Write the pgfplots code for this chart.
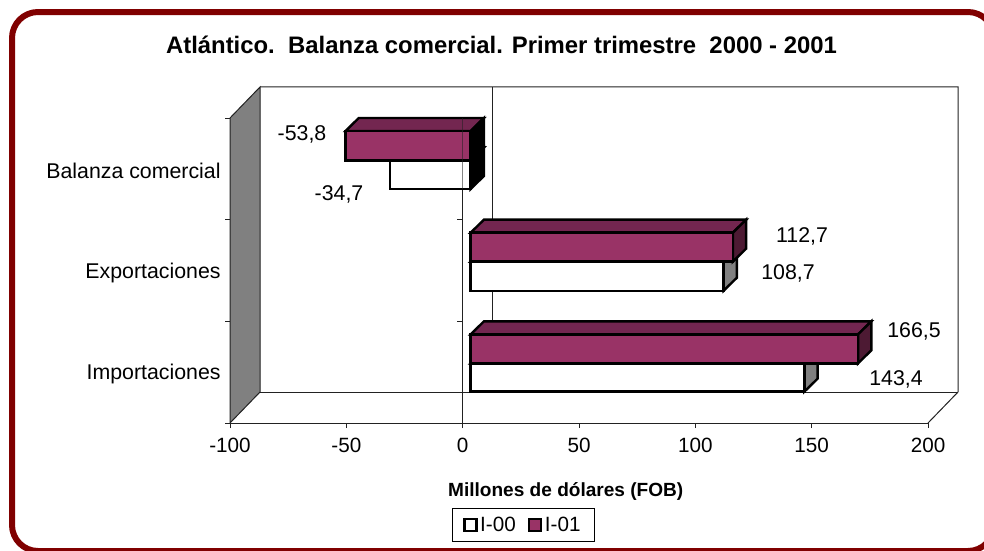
\documentclass[border=0pt]{standalone}
\usepackage{pgfplots}
\pgfplotsset{compat=1.18}
\usepackage{fontspec}
\setmainfont{Liberation Sans}
\definecolor{bfront}{HTML}{993366}
\definecolor{btop}{HTML}{732650}
\definecolor{bside}{HTML}{4D1A33}
\definecolor{wallg}{HTML}{808080}
\definecolor{framec}{HTML}{800000}
\definecolor{axisc}{HTML}{222222}
\newcommand{\lblfont}{\fontsize{15.5}{18}\selectfont}
\newcommand{\catfont}{\fontsize{16}{18}\selectfont}
% value, y bottom, y top, front colour, top colour, side colour
\newcommand{\threedbar}[6]{%
  \pgfmathsetmacro\xv{#1+3.44}%
  \pgfmathsetmacro\xz{3.44}%
  \pgfmathsetmacro\xvd{#1+3.44+5.7}%
  \pgfmathsetmacro\xzd{3.44+5.7}%
  \pgfmathsetmacro\xs{max(#1,0)+3.44}%
  \pgfmathsetmacro\xsd{max(#1,0)+3.44+5.7}%
  \pgfmathsetmacro\ya{#3+0.128}%
  \pgfmathsetmacro\yb{#2+0.128}%
  \addplot[forget plot,draw=black,line width=1.8pt,fill=#5] coordinates {(\xv,#3)(\xz,#3)(\xzd,\ya)(\xvd,\ya)} -- cycle;
  \addplot[forget plot,draw=black,line width=1.8pt,fill=#6] coordinates {(\xs,#2)(\xs,#3)(\xsd,\ya)(\xsd,\yb)} -- cycle;
  \addplot[forget plot,draw=black,line width=1.8pt,fill=#4] coordinates {(\xz,#2)(\xv,#2)(\xv,#3)(\xz,#3)} -- cycle;
}
\begin{document}
\begin{tikzpicture}
\path[use as bounding box] (0,0) rectangle (738pt,-412.5pt);
\draw[framec,line width=4.5pt,rounded corners=19.5pt] (9pt,-9pt) rectangle (745.5pt,-413.25pt);
\begin{axis}[
  at={(172.5pt,-317.25pt)},anchor=south west,
  scale only axis,width=523.5pt,height=228.75pt,
  xmin=-100,xmax=200,ymin=0,ymax=3,clip=false,
  axis x line*=bottom,axis y line*=left,
  axis line style={axisc,line width=0.75pt,-},
  tick style={axisc,line width=0.6pt},
  tick align=outside,major tick length=3.75pt,
  xtick={-100,-50,0,50,100,150,200},
  xticklabels={-100,-50,0,50,100,150,200},
  ytick={0,1,2,3},yticklabels={,,,},
  extra y ticks={0.48,1.48,2.48},
  extra y tick labels={Importaciones,Exportaciones,Balanza comercial},
  extra y tick style={major tick length=0pt,tick style={draw=none}},
  xticklabel style={font=\lblfont,yshift=-4pt},
  yticklabel style={font=\catfont,xshift=-3.5pt},
  title={\bfseries Atlántico.\ \ Balanza comercial. Primer trimestre\ \ 2000 - 2001},
  title style={font=\fontsize{17.9}{20}\selectfont,at={(axis description cs:0.389,1.215)},anchor=center},
  xlabel={\bfseries Millones de dólares (FOB)},
  xlabel style={font=\fontsize{14.3}{18}\selectfont,at={(axis description cs:0.481,-0.226)},anchor=center},
  legend columns=2,
  legend style={at={(axis description cs:0.42,-0.334)},anchor=center,font=\lblfont,draw=black,line width=0.5pt,inner xsep=8pt,inner ysep=4.5pt,/tikz/every even column/.append style={column sep=7pt}},
]
% walls and floor
\addplot[forget plot,draw=axisc,line width=0.75pt,fill=wallg] coordinates {(-100,3)(-87.1,3.305)(-87.1,0.305)(-100,0)} -- cycle;
\addplot[forget plot,draw=axisc,line width=0.75pt] coordinates {(-87.1,3.305)(212.9,3.305)(212.9,0.305)(200,0)};
\addplot[forget plot,draw=axisc,line width=0.75pt] coordinates {(-87.1,0.305)(212.9,0.305)};
\addplot[forget plot,draw=axisc,line width=0.75pt] coordinates {(12.9,3.305)(12.9,0.305)};
\addplot[forget plot,draw=axisc,line width=0.75pt] coordinates {(0,3)(0,-0.02)};
\addplot[forget plot,draw=axisc,line width=0.6pt] coordinates {(-2.4,2)(0,2)};
\addplot[forget plot,draw=axisc,line width=0.6pt] coordinates {(-2.4,1)(0,1)};
\addplot[forget plot,draw=axisc,line width=0.6pt] coordinates {(-2.4,0)(0,0)};
% bars
\threedbar{143.4}{0.308}{0.587}{white}{btop}{wallg}
\threedbar{166.5}{0.587}{0.872}{bfront}{btop}{bside}
\threedbar{108.7}{1.301}{1.587}{white}{btop}{wallg}
\threedbar{112.7}{1.587}{1.872}{bfront}{btop}{bside}
\threedbar{-34.7}{2.302}{2.583}{white}{btop}{black}
\threedbar{-53.8}{2.583}{2.872}{bfront}{btop}{black}
\addplot[forget plot,draw=axisc,line width=0.75pt,opacity=0.55] coordinates {(0,3)(0,2.3)};
\addlegendimage{legend image code/.code={\draw[black,line width=1.8pt,fill=white] (0pt,-4.5pt) rectangle (9pt,4.5pt);}}
\addlegendentry{I-00}
\addlegendimage{legend image code/.code={\draw[black,line width=1.8pt,fill=bfront] (0pt,-4.5pt) rectangle (9pt,4.5pt);}}
\addlegendentry{I-01}
\end{axis}
\begin{scope}[x=0.75pt,y=-0.75pt,every node/.style={font=\catfont,inner sep=0pt}]
\node at (302,134) {-53,8};
\node at (339,194) {-34,7};
\node at (802,236) {112,7};
\node at (788,273) {108,7};
\node at (914,331) {166,5};
\node at (896,379) {143,4};
\end{scope}
\end{tikzpicture}
\end{document}
